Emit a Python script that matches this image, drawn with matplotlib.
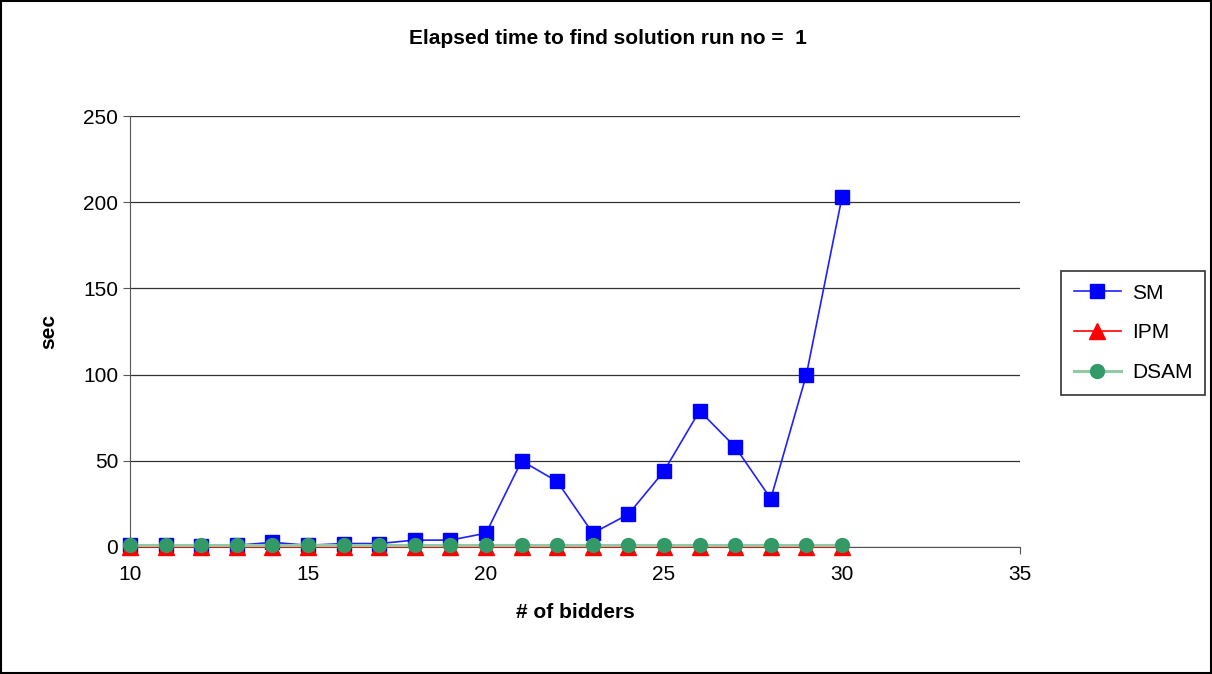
import matplotlib
matplotlib.use("Agg")
import matplotlib.pyplot as plt
from matplotlib.patches import Rectangle

bidders = list(range(10, 31))
sm = [1, 1, 0.5, 1, 2.7, 1, 2, 2, 4, 4, 8, 50, 38, 8, 19, 44, 79, 58, 28, 100, 203]
ipm = [0.1] * 21
dsam = [1] * 21

plt.rcParams['font.family'] = ['Liberation Sans', 'DejaVu Sans']

fig = plt.figure(figsize=(12.12, 6.74), dpi=100)
ax = fig.add_axes([130 / 1212, 1 - 547 / 674, 890 / 1212, 431 / 674])

ax.plot(bidders, ipm, color='#ff0000', lw=1.2, marker='^', ms=11,
        mfc='#ff0000', mec='#ff0000', label='IPM', zorder=3, clip_on=False)
ax.plot(bidders, dsam, color='#8fc9a6', lw=2.2, marker='o', ms=10,
        mfc='#339966', mec='#339966', label='DSAM', zorder=4, clip_on=False)
ax.plot(bidders, sm, color='#2020ff', lw=1.2, marker='s', ms=10,
        mfc='#0000ff', mec='#0000ff', label='SM', zorder=2, clip_on=False)

ax.set_xlim(10, 35)
ax.set_ylim(0, 250)
ax.set_xticks(range(10, 36, 5))
ax.set_yticks(range(0, 251, 50))
ax.yaxis.grid(True, color='#333333', lw=0.9)
ax.set_axisbelow(True)
for s in ['top', 'right']:
    ax.spines[s].set_visible(False)
for s in ['left', 'bottom']:
    ax.spines[s].set_color('#555555')
ax.tick_params(axis='both', labelsize=15, length=5, color='#555555', direction='out')
ax.tick_params(axis='x', pad=8)
ax.set_xlabel('# of bidders', fontsize=15, fontweight='bold', labelpad=14)
ax.set_ylabel('sec', fontsize=15, fontweight='bold', labelpad=18)
fig.text(608 / 1212, 1 - 38 / 674, 'Elapsed time to find solution run no =  1',
         ha='center', va='center', fontsize=15, fontweight='bold')

handles, labels = ax.get_legend_handles_labels()
order = [2, 0, 1]
leg = fig.legend([handles[i] for i in order], [labels[i] for i in order],
                 loc='upper left', bbox_to_anchor=(1061 / 1212, 1 - 271 / 674),
                 bbox_transform=fig.transFigure, borderaxespad=0,
                 fontsize=15, frameon=True, fancybox=False, edgecolor='black',
                 handlelength=2.3, handletextpad=0.5, labelspacing=1.0,
                 borderpad=0.6)
leg.get_frame().set_linewidth(1.2)

fig.patches.append(Rectangle((0.001, 0.001), 0.998, 0.998, transform=fig.transFigure,
                             fill=False, edgecolor='black', lw=1.5))

fig.savefig('out.png', dpi=100)
